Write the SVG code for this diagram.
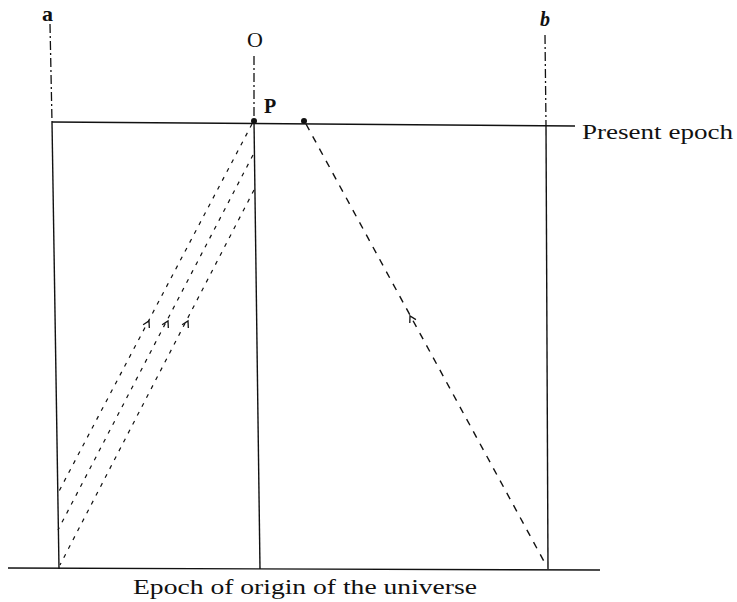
<svg xmlns="http://www.w3.org/2000/svg" width="737" height="602" viewBox="0 0 737 602">
<style>
.ln{stroke:#111;stroke-width:1.4;fill:none}
.dd{stroke:#111;stroke-width:1.3;fill:none;stroke-dasharray:9 3 2 3}
.ds{stroke:#111;stroke-width:1.2;fill:none;stroke-dasharray:4 6}
.dl{stroke:#111;stroke-width:1.4;fill:none;stroke-dasharray:7 7}
.ah{stroke:#111;stroke-width:1.3;fill:none}
.t{font-family:"Liberation Serif",serif;fill:#111}
</style>
<defs>
<path id="chev" d="M-6,-3.5 L0,0 L-6,3.5"/>
</defs>
<g id="connectors">
<line class="ln" x1="8" y1="568" x2="600" y2="570"/>
<line class="ln" x1="52" y1="122" x2="575" y2="126"/>
<line class="dd" x1="50" y1="24" x2="52" y2="122"/>
<line class="ln" x1="52" y1="122" x2="59" y2="569"/>
<line class="dd" x1="254" y1="56" x2="254" y2="121"/>
<line class="ln" x1="254" y1="121" x2="260" y2="569"/>
<line class="dd" x1="545" y1="35" x2="546" y2="125"/>
<line class="ln" x1="546" y1="125" x2="548" y2="569"/>
<line class="ds" x1="252" y1="124" x2="57" y2="495"/>
<line class="ds" x1="253" y1="155" x2="58" y2="530"/>
<line class="ds" x1="254" y1="190" x2="60" y2="565"/>
<line class="dl" x1="306" y1="124" x2="546" y2="565"/>
<use href="#chev" class="ah" transform="translate(149,321) rotate(-62.4)"/>
<use href="#chev" class="ah" transform="translate(168,321) rotate(-62.4)"/>
<use href="#chev" class="ah" transform="translate(188,321) rotate(-62.4)"/>
<use href="#chev" class="ah" transform="translate(410,316) rotate(-118.6)"/>
</g>
<g id="P"><circle cx="254" cy="121" r="3" fill="#111"/><text class="t" x="264" y="113" font-size="20" font-weight="bold">P</text></g>
<g id="P2"><circle cx="304" cy="121" r="3" fill="#111"/></g>
<g id="a"><text class="t" x="42" y="21" font-size="22" font-weight="bold">a</text></g>
<g id="O"><text class="t" x="255" y="47" font-size="22" text-anchor="middle">O</text></g>
<g id="b"><text class="t" x="545" y="26" font-size="20" font-style="italic" font-weight="bold" text-anchor="middle">b</text></g>
<g id="present"><text class="t" x="582" y="139" font-size="22" textLength="151" lengthAdjust="spacingAndGlyphs">Present epoch</text></g>
<g id="origin"><text class="t" x="133" y="594" font-size="20" textLength="344" lengthAdjust="spacingAndGlyphs">Epoch of origin of the universe</text></g>
</svg>
